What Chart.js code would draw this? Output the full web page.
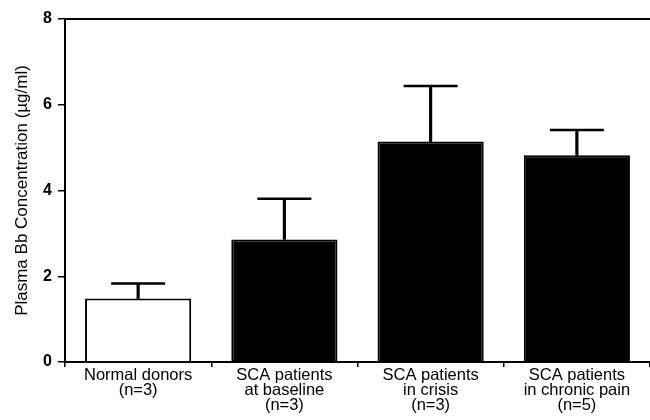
<!DOCTYPE html>
<html>
<head>
<meta charset="utf-8">
<script src="https://cdn.jsdelivr.net/npm/chart.js@4"></script>
<style>
html,body{margin:0;padding:0;background:#fff;}
canvas{display:block;}
</style>
</head>
<body>
<canvas id="c" width="650" height="420"></canvas>
<script>
const categories = [
  ["Normal donors", "(n=3)"],
  ["SCA patients", "at baseline", "(n=3)"],
  ["SCA patients", "in crisis", "(n=3)"],
  ["SCA patients", "in chronic pain", "(n=5)"]
];
const means = [1.48, 2.86, 5.14, 4.82];
const errors = [0.35, 0.95, 1.30, 0.59];
const barColors = ["#ffffff", "#000000", "#000000", "#000000"];
const yTicks = [0, 2, 4, 6, 8];
const yTitle = "Plasma Bb Concentration (\u00b5g/ml)";

const stems = means.map((m, i) => [m, m + errors[i]]);
const caps = means.map((m, i) => m + errors[i]);

const FONT = "'Liberation Sans', Arial, Helvetica, sans-serif";

new Chart(document.getElementById('c'), {
  type: 'bar',
  data: {
    labels: categories,
    datasets: [
      {
        type: 'line',
        data: caps,
        showLine: false,
        pointStyle: 'line',
        pointRadius: 27,
        pointHoverRadius: 27,
        pointBorderWidth: 2.5,
        pointBorderColor: '#000',
        pointBackgroundColor: '#000',
        clip: false,
        order: 0
      },
      {
        data: stems,
        backgroundColor: '#000',
        borderWidth: 0,
        barThickness: 2.5,
        grouped: false,
        order: 1
      },
      {
        data: means,
        backgroundColor: barColors,
        borderColor: '#000',
        borderWidth: 2,
        borderSkipped: 'start',
        grouped: false,
        barPercentage: 0.726,
        categoryPercentage: 1.0,
        order: 2
      }
    ]
  },
  options: {
    responsive: false,
    animation: false,
    devicePixelRatio: 1,
    layout: { padding: 0, autoPadding: false },
    plugins: { legend: { display: false }, tooltip: { enabled: false } },
    scales: {
      x: {
        position: 'bottom',
        offset: true,
        grid: { display: true, drawOnChartArea: false, drawTicks: true, tickLength: 5, offset: true, color: '#000', lineWidth: 1.5 },
        border: { display: true, color: '#000', width: 2 },
        ticks: {
          color: '#000',
          font: { family: FONT, size: 16.5, lineHeight: 0.9 },
          padding: 1,
          maxRotation: 0,
          autoSkip: false
        },
        afterFit: s => { s.height = 58; s.paddingLeft = 0; s.paddingRight = 0; }
      },
      x2: {
        position: 'top',
        type: 'category',
        labels: categories,
        offset: true,
        grid: { display: false, drawTicks: false },
        border: { display: true, color: '#000', width: 2 },
        ticks: { display: false },
        afterFit: s => { s.height = 19; s.paddingLeft = 0; s.paddingRight = 0; }
      },
      y: {
        min: 0,
        max: 8,
        afterBuildTicks: s => { s.ticks = yTicks.map(v => ({ value: v })); },
        grid: { display: true, drawOnChartArea: false, drawTicks: true, tickLength: 7, color: '#000', lineWidth: 1.5 },
        border: { display: true, color: '#000', width: 2 },
        ticks: {
          color: '#000',
          font: { family: FONT, size: 16, weight: 'bold' },
          padding: 6
        },
        title: {
          display: true,
          text: yTitle,
          color: '#000',
          font: { family: FONT, size: 17 },
          padding: { top: 12, bottom: 0 }
        },
        afterFit: s => { s.width = 65; s.paddingTop = 0; s.paddingBottom = 0; }
      }
    }
  }
});
</script>
</body>
</html>
